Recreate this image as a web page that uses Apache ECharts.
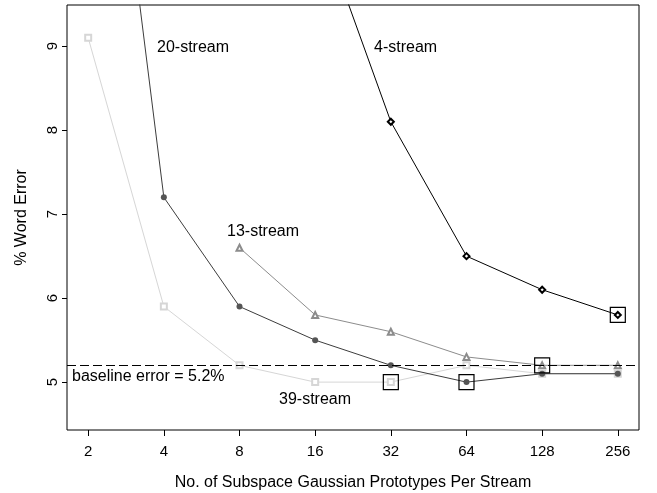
<!DOCTYPE html>
<html>
<head>
    <meta charset="UTF-8">
    <title>Word error vs prototypes</title>
    <style>
        html, body { margin: 0; padding: 0; background: #fff; }
        #main { width: 657px; height: 493px; }
    </style>
</head>
<body>
<div id="main"></div>
<script src="https://cdn.jsdelivr.net/npm/echarts@6/dist/echarts.min.js"></script>
<script>
    // prototypes per stream (x) and % word error for each system
    var prototypes = [2, 4, 8, 16, 32, 64, 128, 256];
    var err4  = [null, null, null, 10.6, 8.1, 6.5, 6.1, 5.8];
    var err20 = [14.4, 7.2, 5.9, 5.5, 5.2, 5.0, 5.1, 5.1];
    var err13 = [null, null, 6.6, 5.8, 5.6, 5.3, 5.2, 5.2];
    var err39 = [9.1, 5.9, 5.2, 5.0, 5.0, 5.2, 5.1, 5.1];
    // best result of each system (boxed)
    var bestX = [32, 64, 128, 256];
    var bestY = [5.0, 5.0, 5.2, 5.8];
    var baselineErr = 5.2;
    var yTicks = [5, 6, 7, 8, 9];

    var font = 'Liberation Sans, Arial, sans-serif';

    function pairs(vals) {
        var out = [];
        for (var i = 0; i < prototypes.length; i++) {
            if (vals[i] != null) out.push([Math.log2(prototypes[i]), vals[i]]);
        }
        return out;
    }

    var xTicks = prototypes.map(function (p) { return Math.log2(p); });

    var myChart = echarts.init(document.getElementById('main'));

    var option = {
        animation: false,
        backgroundColor: '#fff',
        grid: {
            left: 67, right: 18, top: 5, bottom: 63,
            outerBoundsMode: 'none',
            show: true, borderColor: '#000', borderWidth: 1
        },
        xAxis: {
            type: 'value',
            min: 0.72, max: 8.28,
            name: 'No. of Subspace Gaussian Prototypes Per Stream',
            nameLocation: 'middle', nameGap: 45,
            nameTextStyle: { fontFamily: font, fontSize: 16, color: '#000' },
            axisLine: { show: false },
            axisTick: {
                show: true, length: 6,
                customValues: xTicks,
                lineStyle: { color: '#000' }
            },
            axisLabel: {
                customValues: xTicks,
                formatter: function (v) { return String(Math.round(Math.pow(2, v))); },
                margin: 14, fontFamily: font, fontSize: 15, color: '#000'
            },
            splitLine: { show: false }
        },
        yAxis: {
            type: 'value',
            min: 4.43, max: 9.49,
            name: '% Word Error',
            nameLocation: 'middle', nameGap: 37, nameRotate: 90,
            nameTextStyle: { fontFamily: font, fontSize: 16, color: '#000' },
            axisLine: { show: false },
            axisTick: {
                show: true, length: 5,
                customValues: yTicks,
                lineStyle: { color: '#000' }
            },
            axisLabel: {
                customValues: yTicks,
                rotate: 90, margin: 7,
                fontFamily: font, fontSize: 15, color: '#000'
            },
            splitLine: { show: false }
        },
        series: [
            {
                name: '39-stream', type: 'line', data: pairs(err39),
                symbol: 'emptyRect', symbolSize: 6,
                lineStyle: { color: '#d6d6d6', width: 1 },
                itemStyle: { color: '#d6d6d6', borderWidth: 1 },
                z: 2
            },
            {
                name: '13-stream', type: 'line', data: pairs(err13),
                symbol: 'emptyTriangle', symbolSize: 6,
                lineStyle: { color: '#8c8c8c', width: 1 },
                itemStyle: { color: '#8c8c8c', borderWidth: 0.8 },
                z: 3
            },
            {
                name: '20-stream', type: 'line', data: pairs(err20),
                symbol: 'circle', symbolSize: 6,
                lineStyle: { color: '#3c3c3c', width: 1 },
                itemStyle: { color: '#555' },
                z: 4
            },
            {
                name: '4-stream', type: 'line', data: pairs(err4),
                symbol: 'emptyDiamond', symbolSize: 6,
                lineStyle: { color: '#000', width: 1 },
                itemStyle: { color: '#000', borderWidth: 1 },
                z: 5,
                markLine: {
                    silent: true, symbol: 'none',
                    label: { show: false },
                    lineStyle: { color: '#000', type: [9, 4], width: 1 },
                    data: [{ yAxis: baselineErr }]
                }
            },
            {
                name: 'best', type: 'scatter',
                data: bestX.map(function (x, i) { return [Math.log2(x), bestY[i]]; }),
                symbol: 'rect', symbolSize: 15,
                itemStyle: { color: 'rgba(0,0,0,0)', borderColor: '#000', borderWidth: 1.2, opacity: 1 },
                z: 6
            }
        ],
        graphic: [
            { type: 'text', left: 157, top: 40, style: { text: '20-stream', font: '16px ' + font, fill: '#000' } },
            { type: 'text', left: 374, top: 40, style: { text: '4-stream', font: '16px ' + font, fill: '#000' } },
            { type: 'text', left: 227, top: 224, style: { text: '13-stream', font: '16px ' + font, fill: '#000' } },
            { type: 'text', left: 279, top: 392, style: { text: '39-stream', font: '16px ' + font, fill: '#000' } },
            { type: 'text', left: 72, top: 369, style: { text: 'baseline error = 5.2%', font: '16px ' + font, fill: '#000' } }
        ]
    };

    myChart.setOption(option);
</script>
</body>
</html>
